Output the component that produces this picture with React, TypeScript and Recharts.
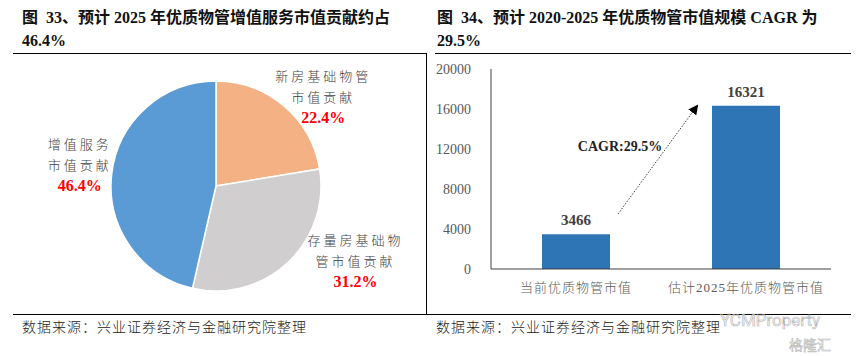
import { PieChart, Pie, Cell, BarChart, Bar, XAxis, YAxis, LabelList } from 'recharts';

const pieNames = ['新房基础物管市值贡献', '存量房基础物管市值贡献', '增值服务市值贡献'];
const pieValues = [22.4, 31.2, 46.4];
const pieLabelLines = [
  ['新房基础物管', '市值贡献'],
  ['存量房基础物', '管市值贡献'],
  ['增值服务', '市值贡献'],
];
const pieColors = ['#F4B183', '#D0CECE', '#5B9BD5'];

const barCategories = ['当前优质物管市值', '估计2025年优质物管市值'];
const barValues = [3466, 16321];
const yTicks = [0, 4000, 8000, 12000, 16000, 20000];

const pieData = pieNames.map((name, i) => ({ name, value: pieValues[i] }));
const barData = barCategories.map((name, i) => ({ name, value: barValues[i] }));

const serif = '"Liberation Serif", "Times New Roman", "Noto Sans CJK SC", serif';
const cjk = '"Noto Sans CJK SC", sans-serif';

// where each slice's label sits, as angle (deg) and distance from the pie centre
const labelSpots = [
  { angle: 40, dist: 140 },
  { angle: -28, dist: 158 },
  { angle: 171, dist: 138 },
];

const PieLabel = (props: any) => {
  const { cx, cy, index, value } = props;
  const spot = labelSpots[index];
  const rad = (spot.angle * Math.PI) / 180;
  const x = cx + spot.dist * Math.cos(rad);
  const y = cy - spot.dist * Math.sin(rad);
  const lines = pieLabelLines[index];
  return (
    <g>
      {lines.map((t, k) => (
        <text key={k} x={x} y={y - 21 + k * 21} textAnchor="middle" dominantBaseline="central"
          fontFamily={cjk} fontSize={13} fontWeight={300} fill="#404040" letterSpacing={3}>
          {t}
        </text>
      ))}
      <text x={x} y={y + 21} textAnchor="middle" dominantBaseline="central"
        fontFamily={serif} fontSize={16} fontWeight="bold" fill="#FF0000">
        {value.toFixed(1)}%
      </text>
    </g>
  );
};

const titleStyle: React.CSSProperties = {
  position: 'absolute',
  fontFamily: serif,
  fontWeight: 'bold',
  fontSize: 16,
  lineHeight: '23px',
  color: '#111',
  whiteSpace: 'nowrap',
};

const footStyle: React.CSSProperties = {
  position: 'absolute',
  top: 316,
  fontFamily: cjk,
  fontSize: 14,
  fontWeight: 300,
  letterSpacing: 1,
  color: '#222',
  whiteSpace: 'nowrap',
};

export default function App() {
  return (
    <div style={{ position: 'absolute', left: 0, top: 0, width: 863, height: 356, background: '#fff', overflow: 'hidden' }}>
      <div style={{ ...titleStyle, left: 22, top: 6 }}>
        图&nbsp;&nbsp;33、预计 2025 年优质物管增值服务市值贡献约占<br />46.4%
      </div>
      <div style={{ ...titleStyle, left: 437, top: 6 }}>
        图&nbsp;&nbsp;34、预计 2020-2025 年优质物管市值规模 CAGR 为<br />29.5%
      </div>

      <div style={{ position: 'absolute', left: 13, top: 53, width: 414, height: 1, background: '#000' }} />
      <div style={{ position: 'absolute', left: 435, top: 53, width: 416, height: 1, background: '#000' }} />
      <div style={{ position: 'absolute', left: 426, top: 53, width: 1, height: 261, background: '#000' }} />
      <div style={{ position: 'absolute', left: 13, top: 314, width: 838, height: 1, background: '#000' }} />

      <div style={{ position: 'absolute', left: 0, top: 54 }}>
        <PieChart width={426} height={258}>
          <Pie data={pieData} dataKey="value" nameKey="name" cx={211} cy={127} outerRadius={105}
            startAngle={90} endAngle={-270} stroke="#fff" strokeWidth={1.5}
            isAnimationActive={false} label={PieLabel} labelLine={false}>
            {pieData.map((d, i) => (
              <Cell key={d.name} fill={pieColors[i]} />
            ))}
          </Pie>
        </PieChart>
      </div>

      <div style={{ position: 'absolute', left: 430, top: 53 }}>
        <BarChart width={433} height={260} data={barData} margin={{ top: 16, right: 32, left: 0, bottom: 14 }}
          barCategoryGap="20%">
          <XAxis dataKey="name" stroke="#404040" tickLine={false} height={30}
            tick={{ fontFamily: serif, fontSize: 13, fontWeight: 300, fill: '#595959', letterSpacing: 1 }}
            tickMargin={8} />
          <YAxis width={61} domain={[0, 20000]} ticks={yTicks} stroke="#404040" tickLine={false}
            tick={{ fontFamily: serif, fontSize: 14, fill: '#595959' }} tickMargin={14} />
          <Bar dataKey="value" fill="#2E75B6" barSize={68} isAnimationActive={false}>
            <LabelList dataKey="value" position="top" offset={9}
              style={{ fontFamily: serif, fontSize: 15, fontWeight: 'bold', fill: '#404040' }} />
          </Bar>
        </BarChart>
      </div>

      <svg style={{ position: 'absolute', left: 0, top: 0 }} width={863} height={356}>
        <defs>
          <marker id="arr" markerWidth="10" markerHeight="10" refX="8" refY="5" orient="auto" markerUnits="userSpaceOnUse">
            <path d="M0,0 L10,5 L0,10 z" fill="#000" />
          </marker>
        </defs>
        <line x1={618} y1={214} x2={697} y2={106} stroke="#404040" strokeWidth={1} strokeDasharray="1.5 1.5" markerEnd="url(#arr)" />
        <text x={620} y={146} textAnchor="middle" dominantBaseline="central" fontFamily={serif}
          fontSize={14} fontWeight="bold" fill="#222">CAGR:29.5%</text>
        <text x={770} y={320} textAnchor="middle" dominantBaseline="central" fontFamily="Roboto, sans-serif"
          fontSize={17} fill="#fff" fillOpacity={0} stroke="#b0b0b0" strokeWidth={0.6}>YCMProperty</text>
        <text x={810} y={344} textAnchor="middle" dominantBaseline="central" fontFamily={cjk}
          fontSize={14} fill="#fff" fillOpacity={0} stroke="#b8b8b8" strokeWidth={0.6}>格隆汇</text>
      </svg>

      <div style={{ ...footStyle, left: 22 }}>数据来源：兴业证券经济与金融研究院整理</div>
      <div style={{ ...footStyle, left: 436 }}>数据来源：兴业证券经济与金融研究院整理</div>
    </div>
  );
}
